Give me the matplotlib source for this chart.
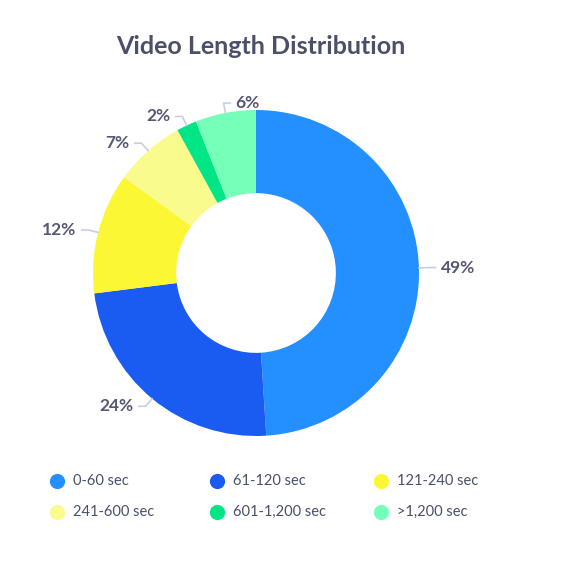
import numpy as np
import matplotlib
matplotlib.use("Agg")
import matplotlib.pyplot as plt

# data
categories = ["0-60 sec", "61-120 sec", "121-240 sec", "241-600 sec", "601-1,200 sec", ">1,200 sec"]
shares = [49, 24, 12, 7, 2, 6]
colors = ["#2490FF", "#1A5CF2", "#FBF735", "#F9FB8D", "#00E586", "#76FFB8"]
label_side = [1, -1, -1, -1, -1, 1]

W, H = 586, 564
CX, CY, R = 256, H - 273, 163
TEXT = "#4a5068"
LINE = "#c9cee0"

plt.rcParams["font.family"] = ["Lato", "DejaVu Sans"]

fig = plt.figure(figsize=(W / 100, H / 100), dpi=100)
ax = fig.add_axes([0, 0, 1, 1])

wedges, _ = ax.pie(shares, colors=colors, startangle=90, counterclock=False,
                   center=(CX, CY), radius=R, frame=True,
                   wedgeprops=dict(width=R * 0.51, linewidth=0))
ax.set_xlim(0, W)
ax.set_ylim(0, H)
ax.axis("off")

for w, share, side in zip(wedges, shares, label_side):
    ang = np.deg2rad((w.theta1 + w.theta2) / 2)
    x0, y0 = CX + R * np.cos(ang), CY + R * np.sin(ang)
    x1, y1 = CX + (R + 10) * np.cos(ang), CY + (R + 10) * np.sin(ang)
    x2 = x1 + 7 * side
    ax.plot([x0, x1, x2], [y0, y1, y1], color=LINE, lw=1.2, solid_capstyle="round")
    ax.text(x2 + 5 * side, y1, f"{share}%", ha="left" if side > 0 else "right",
            va="center", fontsize=12.5, fontweight="bold", fontstyle="normal",
            color="#555873")

ax.text(261, H - 47, "Video Length Distribution", ha="center", va="center",
        fontsize=18, fontweight="bold", color=TEXT)

# legend, 3 columns x 2 rows
col_x = [57, 217, 381]
row_y = [H - 481, H - 512]
for i, (name, c) in enumerate(zip(categories, colors)):
    lx, ly = col_x[i % 3], row_y[i // 3]
    ax.scatter([lx], [ly], s=120, color=c, linewidths=0)
    ax.text(lx + 16, ly, name, ha="left", va="center", fontsize=10.5, color=TEXT)

fig.savefig("out.png", dpi=100)
